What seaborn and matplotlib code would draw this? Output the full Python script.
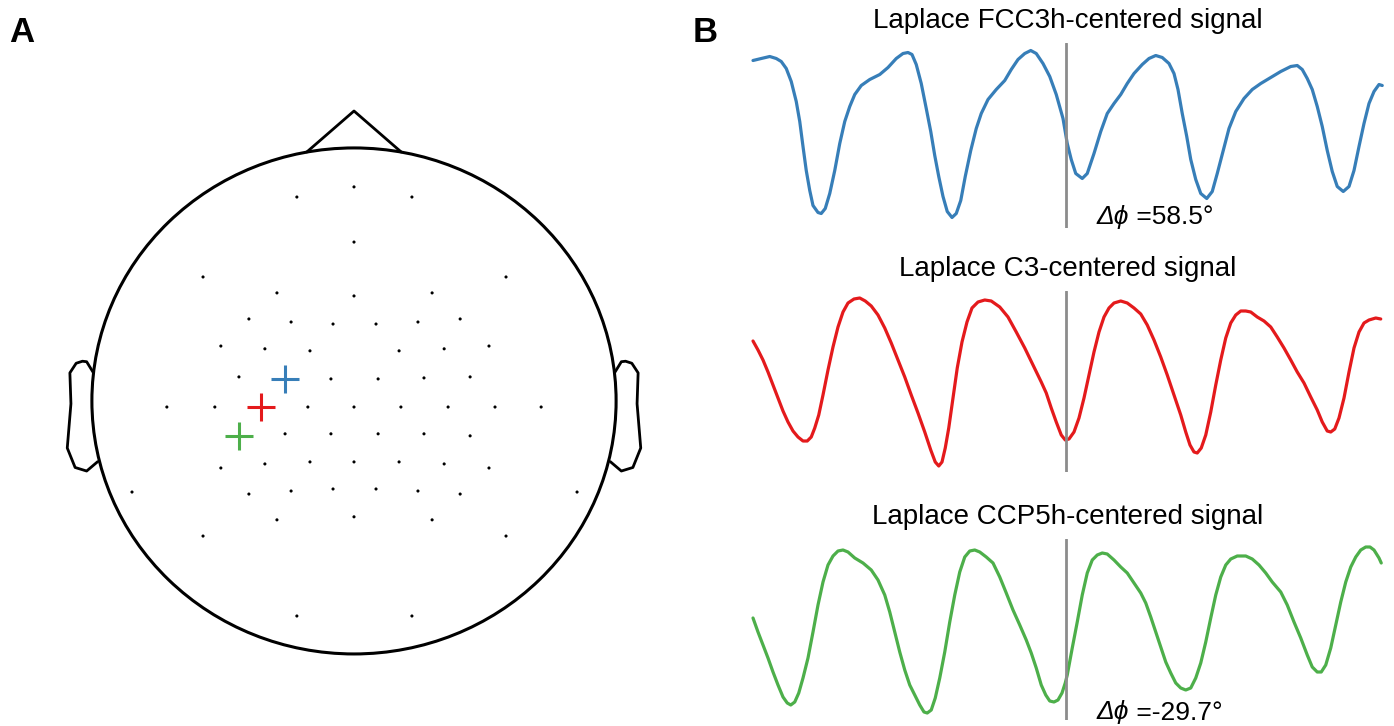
import seaborn as sns
import matplotlib.pyplot as plt
from matplotlib.patches import Circle

# General settings
sns.set_style('white')
plt.rcParams['font.family'] = ['Liberation Sans', 'DejaVu Sans']
plt.rcParams['text.color'] = 'black'

# Electrode layout (head radius = 1)
elec_x = [0, -0.218, 0.221, 0, -0.576, 0.580, -0.294, 0.298, 0,
          -0.401, 0.405, -0.240, 0.244, -0.080, 0.084,
          -0.508, 0.515, -0.340, 0.344, -0.168, 0.172,
          -0.439, 0.443, -0.088, 0.092, 0.267,
          -0.714, -0.531, -0.176, 0, 0.179, 0.359, 0.538, 0.714,
          -0.263, -0.088, 0.092, 0.267, 0.443,
          -0.508, 0.515, -0.340, 0.344, -0.168, 0, 0.172,
          -0.847, 0.851, -0.401, 0.405, -0.240, 0.244, -0.080, 0.084,
          -0.294, 0.298, 0, -0.576, 0.580, -0.218, 0.221]
elec_y = [0.846, 0.806, 0.806, 0.628, 0.490, 0.490, 0.427, 0.427, 0.415,
          0.324, 0.324, 0.312, 0.312, 0.304, 0.304,
          0.217, 0.217, 0.206, 0.206, 0.198, 0.198,
          0.095, 0.095, 0.087, 0.087, 0.091,
          -0.024, -0.024, -0.024, -0.024, -0.024, -0.024, -0.024, -0.024,
          -0.130, -0.130, -0.130, -0.130, -0.138,
          -0.265, -0.265, -0.249, -0.249, -0.241, -0.241, -0.241,
          -0.360, -0.360, -0.368, -0.368, -0.356, -0.356, -0.348, -0.348,
          -0.470, -0.470, -0.458, -0.534, -0.534, -0.850, -0.850]

channels = ['FCC3h', 'C3', 'CCP5h']
chan_x = [-0.263, -0.355, -0.439]
chan_y = [0.087, -0.024, -0.138]
colors = ['#377eb8', '#e41a1c', '#4daf4a']
phase_labels = ['58.5', None, '-29.7']

# Head outline
nose_x = [-0.18, 0, 0.18]
nose_y = [0.984, 1.146, 0.984]
ear_x = [0.994, 1.02, 1.036, 1.06, 1.084, 1.08, 1.094, 1.064, 1.02, 0.978]
ear_y = [0.111, 0.155, 0.157, 0.149, 0.111, -0.011, -0.186, -0.263, -0.277, -0.240]

# Laplace signals (time in ms, amplitude in a.u.)
t_fcc = [-250.4, -243.8, -237.0, -231.8, -227.8, -223.8, -219.8, -215.8, -213.0, -210.4,
         -207.8, -205.0, -202.4, -198.4, -195.8, -192.6, -189.0, -185.0, -181.0, -177.0,
         -173.0, -169.0, -163.8, -157.0, -149.0, -142.4, -135.8, -130.4, -126.4, -123.2,
         -119.8, -115.8, -111.8, -108.2, -105.0, -101.8, -98.4, -95.0, -91.2, -87.8,
         -84.2, -80.6, -76.2, -71.8, -67.8, -62.4, -55.8, -49.0, -43.8, -38.4,
         -33.0, -28.2, -23.8, -18.4, -13.0, -7.8, -2.4, 1.0, 4.2, 7.8,
         13.0, 17.0, 22.4, 27.8, 33.0, 38.4, 43.8, 49.0, 54.4, 61.0,
         66.4, 71.8, 77.0, 82.4, 86.4, 89.6, 93.0, 96.6, 99.8, 103.8,
         107.8, 112.6, 117.0, 121.0, 125.8, 130.4, 135.8, 142.4, 149.0, 155.8,
         163.8, 171.8, 179.8, 185.0, 189.0, 193.0, 197.0, 201.0, 205.0, 209.0,
         213.0, 217.0, 221.8, 226.4, 230.4, 234.4, 238.4, 242.4, 246.4, 250.4,
         253.0]
v_fcc = [7.4, 7.6, 7.8, 7.6, 7.3, 6.6, 5.3, 3.3, 1.3, -1.2,
         -3.6, -5.6, -7.1, -7.8, -7.9, -7.4, -5.9, -3.6, -0.9, 1.3,
         2.8, 4.0, 4.9, 5.5, 6.0, 6.7, 7.6, 8.1, 8.2, 8.0,
         7.0, 5.1, 2.6, 0.3, -2.1, -4.2, -6.2, -7.7, -8.3, -7.9,
         -6.6, -4.2, -1.6, 0.6, 2.1, 3.5, 4.5, 5.4, 6.5, 7.5,
         8.1, 8.4, 8.1, 7.1, 5.8, 4.0, 1.6, -0.9, -2.5, -3.9,
         -4.4, -3.9, -1.9, 0.3, 2.1, 3.1, 4.0, 5.1, 6.1, 7.0,
         7.6, 7.9, 7.7, 7.1, 6.1, 4.5, 2.1, -0.2, -2.5, -4.5,
         -5.9, -6.4, -5.7, -3.9, -1.6, 0.6, 2.3, 3.6, 4.5, 5.1,
         5.7, 6.3, 6.8, 6.9, 6.5, 5.6, 4.5, 2.8, 0.8, -1.6,
         -3.7, -5.2, -5.7, -5.2, -3.6, -1.2, 1.1, 3.1, 4.3, 5.0,
         4.9]

t_c3 = [-250.4, -246.4, -242.4, -238.4, -234.4, -230.4, -226.4, -222.4, -218.4, -214.4,
        -210.4, -207.0, -203.8, -201.0, -197.8, -194.4, -190.4, -186.4, -182.4, -178.4,
        -174.4, -169.6, -165.0, -160.6, -155.8, -150.4, -145.0, -139.8, -134.4, -129.0,
        -123.8, -118.4, -113.0, -108.2, -104.6, -101.8, -99.2, -96.6, -93.8, -90.4,
        -87.0, -83.2, -79.2, -75.2, -70.4, -65.0, -59.8, -53.0, -46.4, -39.8,
        -33.0, -26.4, -19.8, -15.8, -11.8, -7.8, -3.8, -0.6, 2.4, 6.4,
        10.4, 14.4, 18.4, 22.4, 26.4, 30.4, 34.4, 38.4, 43.8, 49.0,
        54.4, 59.8, 65.0, 70.4, 75.8, 81.0, 86.4, 91.8, 95.8, 99.2,
        102.4, 105.0, 108.2, 111.8, 115.8, 119.8, 123.8, 127.8, 131.8, 135.8,
        139.8, 143.8, 147.8, 153.0, 158.4, 163.8, 169.0, 174.4, 179.8, 185.0,
        190.4, 195.8, 201.0, 205.0, 209.0, 211.8, 215.0, 218.4, 222.4, 226.4,
        230.4, 234.4, 238.4, 242.4, 247.8, 251.8]
v_c3 = [4.1, 3.2, 2.2, 1.0, -0.3, -1.6, -2.9, -4.0, -4.9, -5.5,
        -5.9, -5.9, -5.5, -4.6, -3.3, -1.3, 1.2, 3.5, 5.5, 7.0,
        7.9, 8.3, 8.4, 8.1, 7.6, 6.7, 5.4, 3.9, 2.2, 0.5,
        -1.3, -3.1, -5.0, -6.8, -8.0, -8.4, -8.0, -6.6, -4.6, -1.6,
        1.4, 4.0, 6.0, 7.4, 8.0, 8.2, 8.1, 7.5, 6.5, 5.0,
        3.4, 1.7, 0.0, -1.1, -2.6, -4.0, -5.3, -5.8, -5.7, -5.0,
        -3.6, -1.6, 0.7, 3.0, 5.0, 6.5, 7.4, 7.9, 8.1, 7.9,
        7.4, 6.8, 5.7, 4.2, 2.5, 0.7, -1.3, -3.3, -5.0, -6.3,
        -7.0, -7.1, -6.6, -5.3, -3.0, -0.3, 2.2, 4.4, 5.9, 6.7,
        7.1, 7.1, 7.0, 6.5, 6.1, 5.5, 4.5, 3.4, 2.2, 1.0,
        -0.1, -1.5, -2.8, -4.0, -4.9, -5.0, -4.7, -3.6, -1.6, 1.0,
        3.4, 5.0, 5.9, 6.2, 6.4, 6.3]

t_ccp = [-250.4, -246.4, -242.4, -238.4, -234.4, -230.4, -226.4, -223.0, -220.2, -217.0,
         -213.8, -210.4, -206.4, -202.4, -198.4, -194.4, -190.4, -186.4, -182.4, -178.4,
         -174.4, -169.0, -162.4, -155.8, -150.4, -145.0, -141.0, -137.0, -133.0, -129.0,
         -125.0, -121.0, -117.0, -113.6, -111.0, -107.8, -104.6, -101.0, -97.0, -93.0,
         -89.0, -85.0, -81.0, -77.0, -73.0, -69.0, -63.8, -58.4, -53.0, -47.8,
         -42.4, -37.0, -31.8, -27.8, -23.8, -19.8, -16.2, -13.0, -9.6, -6.4,
         -3.2, -0.6, 1.0, 5.0, 9.0, 13.0, 17.0, 21.0, 25.0, 29.0,
         33.0, 38.4, 43.8, 49.0, 54.4, 59.8, 63.8, 67.8, 71.8, 75.8,
         79.8, 83.8, 87.8, 91.8, 95.8, 99.8, 103.8, 107.8, 111.8, 115.8,
         119.8, 123.8, 127.8, 131.8, 137.0, 143.8, 149.0, 154.4, 159.8, 165.0,
         171.8, 177.0, 182.4, 187.8, 193.0, 197.0, 201.0, 204.2, 207.8, 211.8,
         215.8, 219.8, 223.8, 227.8, 231.8, 235.8, 239.8, 243.2, 246.4, 250.4,
         252.2]
v_ccp = [1.2, -0.2, -1.5, -2.8, -4.2, -5.5, -6.7, -7.3, -7.5, -7.2,
         -6.3, -4.8, -2.8, -0.2, 2.5, 4.8, 6.5, 7.4, 7.9, 8.0,
         7.8, 7.2, 6.7, 6.0, 5.0, 3.5, 1.8, -0.2, -2.2, -4.0,
         -5.5, -6.5, -7.5, -8.2, -8.3, -8.0, -6.8, -4.8, -2.2, 0.8,
         3.5, 5.8, 7.3, 7.9, 8.0, 7.8, 7.3, 6.7, 5.3, 3.7,
         2.0, 0.5, -1.0, -2.3, -3.8, -5.5, -6.5, -7.1, -7.2, -7.0,
         -6.3, -5.3, -4.5, -1.8, 0.8, 3.5, 5.7, 7.0, 7.5, 7.7,
         7.6, 7.0, 6.3, 5.7, 4.7, 3.7, 2.7, 1.3, -0.2, -1.7,
         -3.2, -4.3, -5.3, -5.8, -6.0, -5.8, -4.8, -3.3, -1.2, 1.2,
         3.5, 5.3, 6.5, 7.1, 7.4, 7.4, 7.1, 6.5, 5.7, 4.8,
         3.8, 2.5, 0.8, -0.8, -2.5, -3.7, -4.2, -4.2, -3.5, -1.8,
         0.5, 2.8, 4.8, 6.3, 7.3, 8.0, 8.3, 8.3, 8.0, 7.2,
         6.7]

times = [t_fcc, t_c3, t_ccp]
signals = [v_fcc, v_c3, v_ccp]

fig = plt.figure(figsize=(13.94, 7.26), dpi=100)

# ---- Panel A: head with electrodes
axA = fig.add_axes([40 / 1394, 26 / 726, 628 / 1394, 610 / 726])
axA.add_patch(Circle((0, 0), 1, fill=False, ec='black', lw=2.2))
axA.plot(nose_x, nose_y, color='black', lw=2)
axA.plot(ear_x, ear_y, color='black', lw=2, solid_joinstyle='round')
axA.plot([-x for x in ear_x], ear_y, color='black', lw=2, solid_joinstyle='round')
sns.scatterplot(x=elec_x, y=elec_y, ax=axA, color='black', s=5, edgecolor='none')
for cx, cy, c in zip(chan_x, chan_y, colors):
    sns.scatterplot(x=[cx], y=[cy], ax=axA, marker='+', s=420, color=c, linewidth=2.2)
axA.set_xlim(-1.198, 1.198)
axA.set_ylim(-1.182, 1.229)
axA.axis('off')

# ---- Panel B: Laplace signals
rows = [(43, 228, 134.5), (291, 472, 382), (539, 720, 630)]
for i, (top, bot, mid) in enumerate(rows):
    ax = fig.add_axes([750 / 1394, (726 - bot) / 726, 636 / 1394, (bot - top) / 726])
    sns.lineplot(x=times[i], y=signals[i], ax=ax, color=colors[i], lw=2.3,
                 estimator=None, sort=False, solid_joinstyle='round')
    ax.axvline(0, color='#8c8c8c', lw=2, zorder=3)
    ax.set_xlim(-252.8, 256)
    ax.set_ylim((mid - bot) / 10, (mid - top) / 10)
    ax.set_title(f'Laplace {channels[i]}-centered signal', fontsize=20, pad=11)
    if phase_labels[i] is not None:
        sym = ax.text(24.8, -8.25, '\u0394\u03d5', fontsize=19, fontstyle='italic',
                      va='center', ha='left')
        ax.annotate(' =' + phase_labels[i] + '\u00b0', xy=(1, 0.5), xycoords=sym,
                    fontsize=19, va='center', ha='left')
    ax.axis('off')

fig.text(9 / 1394, 1 - 16 / 726, 'A', fontsize=25, fontweight='bold', va='top')
fig.text(693 / 1394, 1 - 16 / 726, 'B', fontsize=25, fontweight='bold', va='top')

fig.savefig('out.png', dpi=100)
